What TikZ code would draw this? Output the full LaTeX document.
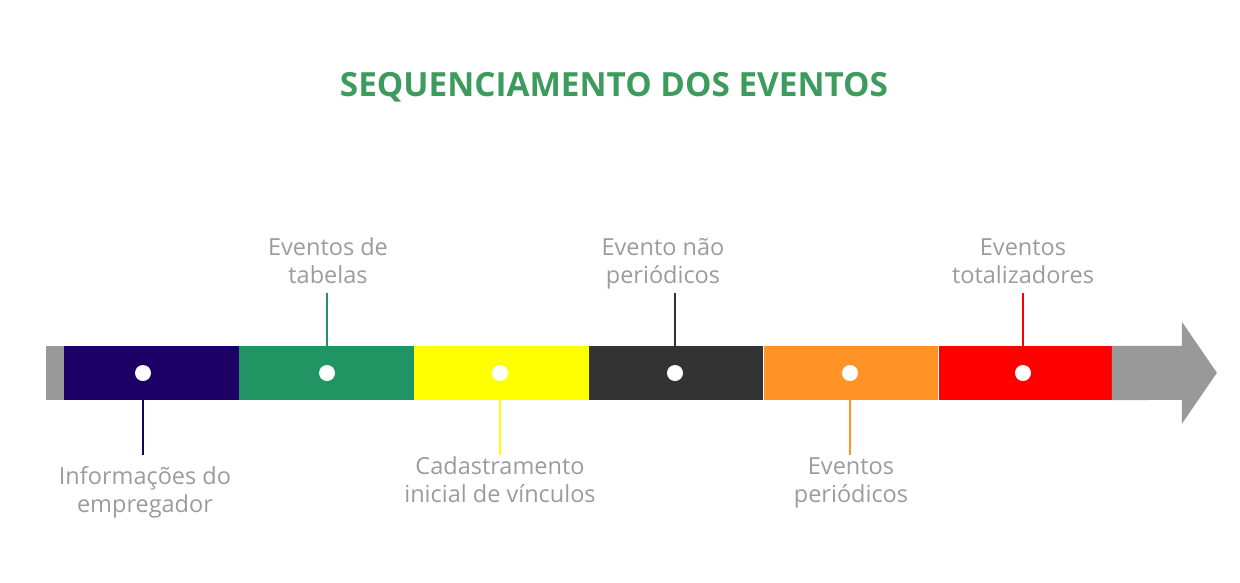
\documentclass[tikz,border=0pt]{standalone}
\usepackage{fontspec}
\setmainfont{Open Sans}
\usetikzlibrary{positioning}
\definecolor{cTitle}{HTML}{3D9B5E}
\definecolor{cText}{HTML}{9B9B9B}
\definecolor{cGray}{HTML}{999999}
\definecolor{cNavy}{HTML}{1C0066}
\definecolor{cGreen}{HTML}{219463}
\definecolor{cYellow}{HTML}{FFFF00}
\definecolor{cDark}{HTML}{333333}
\definecolor{cOrange}{HTML}{FF9326}
\definecolor{cRed}{HTML}{FF0000}
\begin{document}
\begin{tikzpicture}[x=1pt,y=-1pt,
    seg/.style={rectangle,inner sep=0pt,minimum width=174.5pt,minimum height=54pt},
    dot/.style={circle,fill=white,inner sep=0pt,minimum size=16pt},
    evtext/.style={cText,align=center,inner sep=0pt,font=\fontsize{23.5}{28}\selectfont},
    tick/.style={line width=2pt}]
      \useasboundingbox (0,0) rectangle (1240,582);

      \node[font=\bfseries\fontsize{33.3}{40}\selectfont,cTitle] (title) at (614,87) {SEQUENCIAMENTO DOS EVENTOS};

      % faixa
      \node[seg,fill=cNavy,anchor=west] (empregador) at (64,373) {};
      \node[seg,fill=cGreen,right=0pt of empregador] (tabelas) {};
      \node[seg,fill=cYellow,right=0pt of tabelas] (vinculos) {};
      \node[seg,fill=cDark,right=0pt of vinculos] (naoperiodicos) {};
      \node[seg,fill=cOrange,right=0pt of naoperiodicos] (periodicos) {};
      \node[seg,fill=cRed,right=0pt of periodicos,minimum width=173pt] (totalizadores) {};
      \fill[cGray] (46,346) rectangle (empregador.south west);
      \fill[cGray] (totalizadores.north east) -- ++(70,0) -- ++(0,-24) -- ++(35,51)
          -- ++(-35,51) -- ++(0,-24) -- (totalizadores.south east) -- cycle;

      \node[dot] (d1) at (143,373) {};
      \node[dot] (d2) at (327,373) {};
      \node[dot] (d3) at (500,373) {};
      \node[dot] (d4) at (675,373) {};
      \node[dot] (d5) at (850,373) {};
      \node[dot] (d6) at (1023,373) {};

      % textos
      \node[evtext] (t1) at (145,492) {Informações do\\empregador};
      \node[evtext] (t2) at (328,261) {Eventos de\\tabelas};
      \node[evtext] (t3) at (500,480) {Cadastramento\\inicial de vínculos};
      \node[evtext] (t4) at (663,264) {Evento não\\periódicos};
      \node[evtext] (t5) at (851,483) {Eventos\\periódicos};
      \node[evtext] (t6) at (1023,261) {Eventos\\totalizadores};

      \draw[tick,cNavy] (d1 |- empregador.south) -- ++(0,55);
      \draw[tick,cGreen] (d2 |- tabelas.north) -- ++(0,-53);
      \draw[tick,cYellow] (d3 |- vinculos.south) -- ++(0,55);
      \draw[tick,cDark] (d4 |- naoperiodicos.north) -- ++(0,-53);
      \draw[tick,cOrange] (d5 |- periodicos.south) -- ++(0,55);
      \draw[tick,cRed] (d6 |- totalizadores.north) -- ++(0,-53);
\end{tikzpicture}
\end{document}
